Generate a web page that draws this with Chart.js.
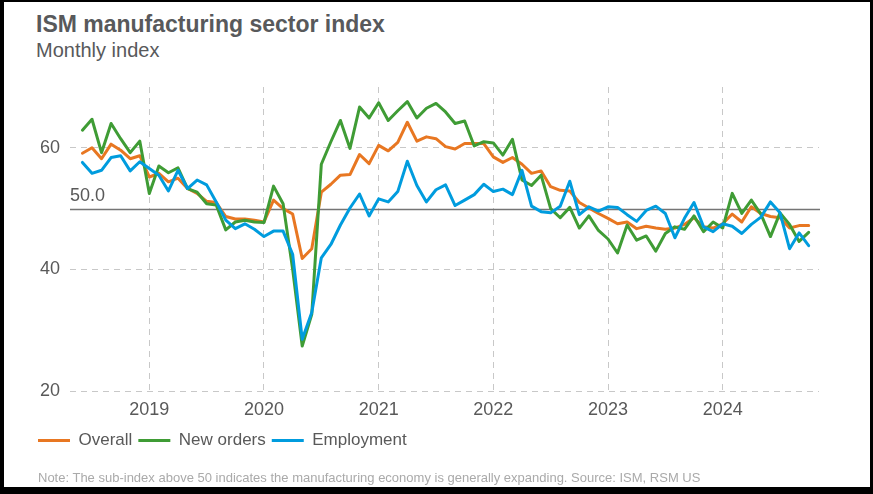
<!DOCTYPE html>
<html>
<head>
<meta charset="utf-8">
<script src="https://cdn.jsdelivr.net/npm/chart.js@4.4.1/dist/chart.umd.min.js"></script>
<style>
  html, body { margin: 0; padding: 0; background: #000; }
  #page { position: absolute; left: 4px; top: 2px; width: 866px; height: 485px; background: #fff; }
  #wrap { position: absolute; left: 0; top: 0; width: 873px; height: 494px; }
  .t { position: absolute; font-family: "Liberation Sans", Arial, sans-serif; white-space: nowrap; line-height: 1; }
  #title { left: 36px; top: 13px; font-size: 23px; font-weight: bold; color: #58595b; }
  #sub { left: 36px; top: 40px; font-size: 20px; color: #58595b; }
  #note { left: 38px; top: 470.5px; font-size: 13px; color: #aaa; }
</style>
</head>
<body>
<div id="page"></div>
<div class="t" id="title">ISM manufacturing sector index</div>
<div class="t" id="sub">Monthly index</div>
<div id="wrap"><canvas id="ism_chart" width="873" height="494"></canvas></div>
<div class="t" id="note">Note: The sub-index above 50 indicates the manufacturing economy is generally expanding. Source: ISM, RSM US</div>
<script>
// mois (mai 2018 -> sept 2024)
const months = [
    "2018-05", "2018-06", "2018-07", "2018-08", "2018-09", "2018-10", "2018-11", "2018-12",
    "2019-01", "2019-02", "2019-03", "2019-04", "2019-05", "2019-06", "2019-07", "2019-08", "2019-09", "2019-10", "2019-11", "2019-12",
    "2020-01", "2020-02", "2020-03", "2020-04", "2020-05", "2020-06", "2020-07", "2020-08", "2020-09", "2020-10", "2020-11", "2020-12",
    "2021-01", "2021-02", "2021-03", "2021-04", "2021-05", "2021-06", "2021-07", "2021-08", "2021-09", "2021-10", "2021-11", "2021-12",
    "2022-01", "2022-02", "2022-03", "2022-04", "2022-05", "2022-06", "2022-07", "2022-08", "2022-09", "2022-10", "2022-11", "2022-12",
    "2023-01", "2023-02", "2023-03", "2023-04", "2023-05", "2023-06", "2023-07", "2023-08", "2023-09", "2023-10", "2023-11", "2023-12",
    "2024-01", "2024-02", "2024-03", "2024-04", "2024-05", "2024-06", "2024-07", "2024-08", "2024-09",
];

const overall = [
    59.1, 60.0, 58.2, 60.6, 59.6, 58.2, 58.7, 55.2,
    55.8, 54.4, 55.0, 53.3, 52.5, 51.2, 51.0, 48.7, 48.3, 48.3, 48.1, 47.8,
    51.4, 50.0, 49.1, 41.8, 43.4, 52.7, 54.0, 55.5, 55.6, 58.9, 57.4, 60.4,
    59.5, 60.9, 64.2, 61.1, 61.8, 61.5, 60.2, 59.8, 60.7, 60.7, 60.7, 58.5,
    57.6, 58.4, 57.3, 55.8, 56.2, 53.6, 53.0, 52.9, 51.0, 50.1, 49.2, 48.4,
    47.5, 47.8, 46.7, 47.1, 46.8, 46.6, 46.8, 47.4, 48.5, 47.0, 46.8, 47.5,
    49.1, 47.8, 50.3, 49.2, 48.7, 48.5, 46.8, 47.2, 47.2,
];

const newOrders = [
    62.9, 64.7, 59.2, 64.0, 61.5, 59.2, 61.1, 52.5,
    57.0, 55.9, 56.7, 53.3, 52.7, 50.8, 50.6, 46.5, 47.8, 48.1, 47.8, 47.7,
    53.7, 50.8, 40.0, 27.4, 32.6, 57.3, 61.0, 64.5, 59.9, 66.7, 64.9, 67.4,
    64.5, 66.1, 67.6, 64.9, 66.5, 67.3, 65.9, 64.0, 64.4, 60.3, 61.0, 60.8,
    58.8, 61.4, 54.7, 53.8, 55.5, 50.0, 48.5, 50.2, 46.8, 48.8, 46.4, 45.0,
    42.7, 47.3, 44.8, 45.5, 43.0, 45.9, 47.0, 46.6, 48.8, 46.2, 47.8, 46.8,
    52.5, 49.2, 51.4, 49.1, 45.4, 49.3, 47.4, 44.6, 46.1,
];

const employment = [
    57.6, 55.8, 56.3, 58.4, 58.7, 56.2, 57.7, 56.6,
    55.5, 52.9, 56.3, 53.3, 54.7, 53.9, 51.1, 48.1, 46.7, 47.5, 46.6, 45.4,
    46.3, 46.3, 42.5, 28.5, 32.9, 41.9, 44.1, 47.3, 50.1, 52.4, 48.8, 51.6,
    51.1, 52.8, 57.8, 53.8, 51.1, 53.1, 53.9, 50.5, 51.4, 52.3, 54.0, 52.8,
    53.2, 52.3, 56.3, 50.4, 49.5, 49.3, 50.4, 54.5, 49.0, 50.3, 49.6, 50.3,
    50.2, 49.0, 47.9, 49.7, 50.4, 49.2, 45.2, 48.4, 51.0, 47.0, 46.2, 47.5,
    47.1, 45.9, 47.4, 48.6, 51.1, 49.3, 43.4, 46.0, 43.9,
];

const yearLabels = ["2019", "2020", "2021", "2022", "2023", "2024"];
const yTicks = [20, 40, 60];
const threshold = 50;

// position des années = fin décembre de l'année précédente
const yearPos = yearLabels.map((y) => months.indexOf((Number(y) - 1) + "-12"));
const toXY = (arr) => arr.map((v, i) => ({ x: i, y: v }));

const FONT = "'Liberation Sans', Arial, sans-serif";
const GREY = "#595959";

// ligne des 50 + étiquette
const refLine = {
    id: "refLine",
    beforeDatasetsDraw(chart) {
        const { ctx, chartArea, scales } = chart;
        const y = Math.round(scales.y.getPixelForValue(threshold)) + 0.5;
        ctx.save();
        ctx.strokeStyle = "#757575";
        ctx.lineWidth = 1.3;
        ctx.beginPath();
        ctx.moveTo(chartArea.left, y);
        ctx.lineTo(chartArea.right + 1, y);
        ctx.stroke();
        ctx.fillStyle = GREY;
        ctx.font = "18px " + FONT;
        ctx.textBaseline = "alphabetic";
        ctx.fillText(threshold.toFixed(1), chartArea.left, y - 8.6);
        ctx.restore();
    },
};

var ctxIsm = document.getElementById("ism_chart").getContext("2d");
new Chart(ctxIsm, {
    type: "line",
    data: {
        datasets: [
            { label: "Overall", data: toXY(overall), borderColor: "#E87722", backgroundColor: "#E87722", order: 3 },
            { label: "New orders", data: toXY(newOrders), borderColor: "#3F9C35", backgroundColor: "#3F9C35", order: 2 },
            { label: "Employment", data: toXY(employment), borderColor: "#009CDE", backgroundColor: "#009CDE", order: 1 },
        ],
    },
    options: {
        responsive: false,
        animation: false,
        events: [],
        layout: { padding: { left: 32, right: 54, top: 87, bottom: 35 } },
        elements: {
            line: { borderWidth: 3, tension: 0, borderJoinStyle: "round", borderCapStyle: "round" },
            point: { radius: 0, borderWidth: 3 },
        },
        scales: {
            x: {
                type: "linear",
                min: -1.3,
                max: 77.08,
                afterBuildTicks: (s) => { s.ticks = yearPos.map((v) => ({ value: v })); },
                afterFit: (s) => { s.height = 35; },
                ticks: {
                    autoSkip: false,
                    maxRotation: 0,
                    padding: 8,
                    color: GREY,
                    font: { size: 18, family: FONT },
                    callback: (v, i) => yearLabels[i],
                },
                grid: { color: "#c8c8c8", drawTicks: false },
                border: { display: false, dash: [6, 5] },
            },
            y: {
                min: 20,
                max: 70,
                afterBuildTicks: (s) => { s.ticks = yTicks.map((v) => ({ value: v })); },
                afterFit: (s) => { s.width = 38; },
                ticks: { padding: 10, color: GREY, font: { size: 18, family: FONT } },
                grid: { color: "#c8c8c8", drawTicks: false },
                border: { display: false, dash: [6, 5] },
            },
        },
        plugins: {
            tooltip: { enabled: false },
            legend: {
                position: "bottom",
                align: "start",
                labels: {
                    usePointStyle: true,
                    pointStyle: "line",
                    pointStyleWidth: 32,
                    padding: 6,
                    color: GREY,
                    font: { size: 17, family: FONT },
                    sort: (a, b) => a.datasetIndex - b.datasetIndex,
                },
            },
        },
    },
    plugins: [refLine],
});
</script>
</body>
</html>
